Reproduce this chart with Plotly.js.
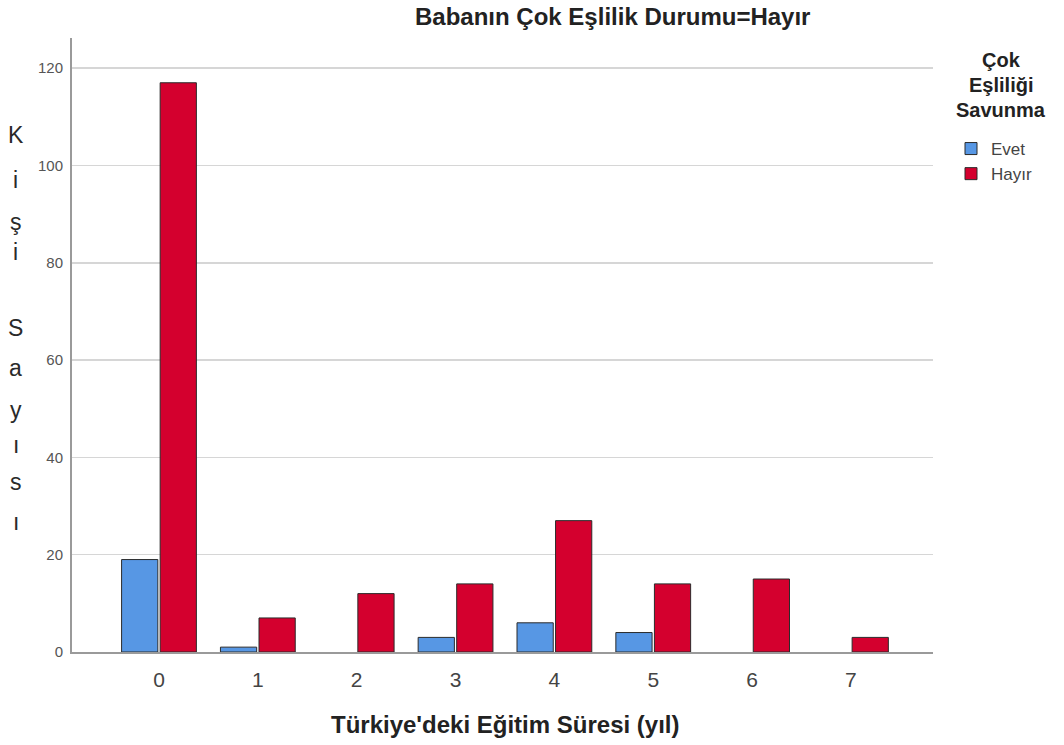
<!DOCTYPE html>
<html><head><meta charset="utf-8">
<script src="https://cdn.plot.ly/plotly-3.0.1.min.js"></script>
<style>body{margin:0;background:#fff}#c{width:1064px;height:745px}</style>
</head><body><div id="c"></div>
<script>
const years = [0,1,2,3,4,5,6,7];
const tickLabels = ['0','1','2','3','4','5','6','7'];
const evet = [19,1,0,3,6,4,0,0];
const hayir = [117,7,12,14,27,14,15,3];
const seriesNames = ['Evet','Hayır'];
const yLetters = ['K','i','ş','i','S','a','y','ı','s','ı'];
const yLetterPx = [135,180,222,252,328,368,410,445,482,522];
const legendTitleLines = ['Çok','Eşliliği','Savunma'];
const legendTitlePx = [60,85,110];

const L=72,R=933,T=38,B=652;
const px = v => (v-L)/(R-L);
const py = v => (B-v)/(B-T);
const traces = [
  {type:'bar', x:years, y:evet, name:seriesNames[0], marker:{color:'#5797E4', line:{color:'#2b2b2b', width:evet.map(v=>v?1:0)}}},
  {type:'bar', x:years, y:hayir, name:seriesNames[1], marker:{color:'#D4002E', line:{color:'#2b2b2b', width:hayir.map(v=>v?1:0)}}}
];
const ann = yLetters.map((ch,i)=>({text:ch, xref:'paper', yref:'paper', x:px(16), y:py(yLetterPx[i]), showarrow:false, xanchor:'center', yanchor:'middle', font:{family:'Arial, Liberation Sans', size:23, color:'#2a2a2a'}}));
ann.push({text:'<b>Babanın Çok Eşlilik Durumu=Hayır</b>', xref:'paper', yref:'paper', x:px(612), y:py(17), showarrow:false, xanchor:'center', yanchor:'middle', font:{family:'Arial, Liberation Sans', size:24, color:'#222'}});
ann.push({text:'<b>Türkiye\'deki Eğitim Süresi (yıl)</b>', xref:'paper', yref:'paper', x:px(505), y:py(724), showarrow:false, xanchor:'center', yanchor:'middle', font:{family:'Arial, Liberation Sans', size:24, color:'#222'}});
legendTitleLines.forEach((t,i)=>ann.push({text:'<b>'+t+'</b>', xref:'paper', yref:'paper', x:px(1001), y:py(legendTitlePx[i]), showarrow:false, xanchor:'center', yanchor:'middle', font:{family:'Arial, Liberation Sans', size:20, color:'#222'}}));

const layout = {
  width:1064, height:745, paper_bgcolor:'#fff', plot_bgcolor:'#fff',
  margin:{l:L, r:1064-R, t:T, b:745-B, pad:0},
  barmode:'group', bargap:0.22, bargroupgap:0.06,
  font:{family:'Arial, Liberation Sans', color:'#444'},
  xaxis:{range:[-0.88,7.83], tickvals:years, ticktext:tickLabels, showgrid:false, zeroline:false,
         showline:true, linecolor:'#9a9a9a', linewidth:2, ticks:'', tickfont:{size:21, color:'#444'}, ticklabelstandoff:8},
  yaxis:{range:[0,126.2], tickvals:[0,20,40,60,80,100,120], showgrid:true, gridcolor:'#d6d6d6', gridwidth:1.5,
         zeroline:false, showline:true, linecolor:'#9a9a9a', linewidth:2, ticks:'', tickfont:{size:15, color:'#555'}, ticklabelstandoff:4},
  showlegend:true,
  legend:{x:px(951), xanchor:'left', y:py(131), yanchor:'top', bgcolor:'rgba(0,0,0,0)',
          font:{family:'Arial, Liberation Sans', size:17, color:'#444'}, itemwidth:30, tracegroupgap:0},
  annotations:ann
};
Plotly.newPlot('c', traces, layout, {staticPlot:true, displayModeBar:false});
</script></body></html>
